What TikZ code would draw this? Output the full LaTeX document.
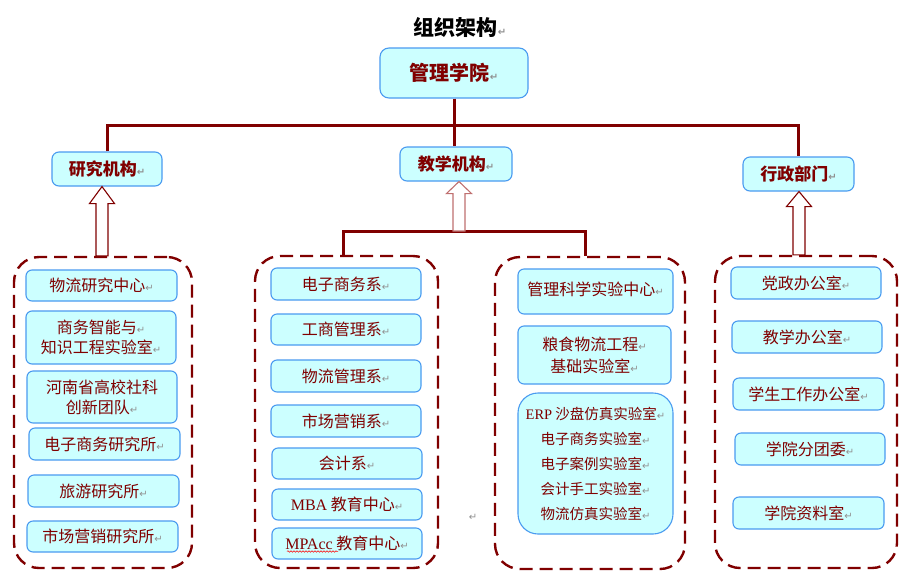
\documentclass[tikz,border=0pt]{standalone}
\usepackage{fontspec}
\setmainfont{Noto Sans CJK SC}
\newfontfamily\lat{Liberation Serif}
\newfontfamily\sym{DejaVu Sans}
\usetikzlibrary{calc,decorations.pathmorphing}
\definecolor{txt}{HTML}{800000}
\definecolor{treered}{HTML}{800000}
\definecolor{pinkred}{HTML}{C07070}
\definecolor{bordblue}{HTML}{4A9BF0}
\definecolor{boxfill}{HTML}{CCFFFF}
\definecolor{retgray}{HTML}{909090}
\newcommand\rt{{\sym\color{retgray}\fontsize{10}{10}\selectfont ↵}}
\newcommand\blockup[4]{%
  \draw[#4] let \p1=(#1), \p2=(#2) in
   (\x1,\y1) -- (\x1+12.5pt,\y1-#3) -- (\x1+6pt,\y1-#3) -- (\x1+6pt,\y2)
   -- (\x1-6pt,\y2) -- (\x1-6pt,\y1-#3) -- (\x1-12.5pt,\y1-#3) -- cycle;}
\tikzset{
  ibox/.style={draw=bordblue, fill=boxfill, line width=1.1pt, rounded corners=6pt,
    text=txt, font=\fontsize{16}{20}\selectfont, inner sep=0pt, align=center},
  hbox/.style={ibox, font=\bfseries\fontsize{17}{20}\selectfont, rounded corners=7pt},
  grp/.style={draw=treered, line width=2.4pt, dash pattern=on 13pt off 7pt,
    rounded corners=25pt, inner sep=0pt},
  tree/.style={draw=treered, line width=3pt},
  harrow/.style={draw=treered, line width=1.1pt, fill=white},
  harrowlight/.style={draw=pinkred, line width=1.1pt, fill=white},
}
\begin{document}
\begin{tikzpicture}[x=1pt,y=-1pt]
\fill[white] (0,0) rectangle (915,587);
\useasboundingbox (0,0) rectangle (915,587);

% groups
\node[grp, minimum width=178pt, minimum height=311pt] (g1) at (103,412.5) {};
\node[grp, minimum width=183pt, minimum height=312pt] (g2) at (346.5,412) {};
\node[grp, minimum width=190pt, minimum height=312pt] (g3) at (590,413) {};
\node[grp, minimum width=182pt, minimum height=312pt] (g4) at (806,412) {};

% title and top
\node[font=\bfseries\fontsize{21}{21}\selectfont] (title) at (460,27) {组织架构\rt};
\node[hbox, font=\bfseries\fontsize{20}{22}\selectfont, rounded corners=9pt,
  minimum width=148pt, minimum height=50pt] (top) at (454,73) {管理学院\rt};

% headers
\node[hbox, minimum width=110pt, minimum height=34pt] (res) at (107,169) {研究机构\rt};
\node[hbox, minimum width=112pt, minimum height=34pt] (tea) at (456,164) {教学机构\rt};
\node[hbox, minimum width=111pt, minimum height=34pt] (adm) at (798.5,174) {行政部门\rt};

% tree lines
\coordinate (jn) at (454,125);
\draw[tree] (res.north) |- (jn) -| (adm.north);
\draw[tree] (top.south) -- (top.south |- tea.north);
\coordinate (j2) at (459,231);
\draw[tree] ([xshift=-3.5pt]g2.north) |- (j2) -| ([xshift=-5pt]g3.north);

% hollow arrows
\blockup{[xshift=-5pt]res.south}{g1.north}{17pt}{harrow}
\blockup{[xshift=3pt]tea.south}{j2}{12pt}{harrowlight}
\blockup{[xshift=0.5pt]adm.south}{g4.north}{15pt}{harrow}

% research group
\node[ibox, minimum width=151pt, minimum height=31pt] (r1) at (101.5,285.5) {物流研究中心\rt};
\node[ibox, minimum width=150pt, minimum height=53pt] (r2) at (101,337.5) {商务智能与\rt\\知识工程实验室\rt};
\node[ibox, minimum width=150pt, minimum height=52pt] (r3) at (102,397) {河南省高校社科\\创新团队\rt};
\node[ibox, minimum width=151pt, minimum height=32pt] (r4) at (104.5,444) {电子商务研究所\rt};
\node[ibox, minimum width=151pt, minimum height=32pt] (r5) at (103.5,491) {旅游研究所\rt};
\node[ibox, minimum width=151pt, minimum height=31pt] (r6) at (102.5,536.5) {市场营销研究所\rt};

% teaching departments
\node[ibox, minimum width=150pt, minimum height=32pt] (t1) at (346,284) {电子商务系\rt};
\node[ibox, minimum width=150pt, minimum height=31pt] (t2) at (346,329.5) {工商管理系\rt};
\node[ibox, minimum width=150pt, minimum height=32pt] (t3) at (346,376) {物流管理系\rt};
\node[ibox, minimum width=150pt, minimum height=32pt] (t4) at (346,421) {市场营销系\rt};
\node[ibox, minimum width=150pt, minimum height=31pt] (t5) at (347,463.5) {会计系\rt};
\node[ibox, minimum width=150pt, minimum height=31pt] (t6) at (347,504.5) {{\lat MBA} 教育中心\rt};
\node[ibox, minimum width=150pt, minimum height=31pt] (t7) at (347,543.5) {{\lat MPAcc} 教育中心\rt};
\draw[red, line width=0.5pt, decorate, decoration={snake, amplitude=0.8pt, segment length=3pt}]
  ([xshift=-60pt,yshift=-8pt]t7.center) -- ([xshift=-9pt,yshift=-8pt]t7.center);

% labs
\node[ibox, minimum width=155pt, minimum height=45pt] (l1) at (595.5,291.5) {\raisebox{6pt}{管理科学实验中心\rt}};
\node[ibox, minimum width=153pt, minimum height=58pt, font=\fontsize{16}{22}\selectfont] (l2) at (594.5,355) {粮食物流工程\rt\\基础实验室\rt};
\node[ibox, minimum width=155pt, minimum height=141pt, rounded corners=20pt, font=\fontsize{14.5}{25}\selectfont] (l3) at (595.5,463.5)
  {{\lat ERP} 沙盘仿真实验室\rt\\电子商务实验室\rt\\电子案例实验室\rt\\会计手工实验室\rt\\物流仿真实验室\rt};

% administration
\node[ibox, minimum width=150pt, minimum height=32pt] (a1) at (806,283) {党政办公室\rt};
\node[ibox, minimum width=150pt, minimum height=32pt] (a2) at (807,337) {教学办公室\rt};
\node[ibox, minimum width=151pt, minimum height=32pt] (a3) at (808.5,394) {学生工作办公室\rt};
\node[ibox, minimum width=150pt, minimum height=32pt] (a4) at (810,449) {学院分团委\rt};
\node[ibox, minimum width=151pt, minimum height=32pt] (a5) at (808.5,513) {学院资料室\rt};

\node[inner sep=0pt] (stray) at (473,517) {\rt};
\end{tikzpicture}
\end{document}
